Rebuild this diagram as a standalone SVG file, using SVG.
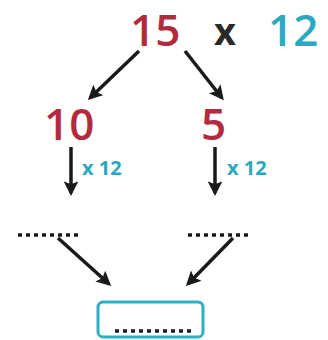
<svg xmlns="http://www.w3.org/2000/svg" width="328" height="340" viewBox="0 0 328 340">
  <style>
    .red { fill: #b22a3e; font-family: "Open Sans", "Liberation Sans", sans-serif; font-size: 44px; font-weight: 600; }
    .teal { fill: #2aa9c1; font-family: "Open Sans", "Liberation Sans", sans-serif; font-size: 44px; font-weight: 600; }
    .op { fill: #2a2a2a; font-family: "Open Sans", "Liberation Sans", sans-serif; font-size: 38px; font-weight: bold; }
    .mul { fill: #2aa9c1; font-family: "Open Sans", "Liberation Sans", sans-serif; font-size: 20px; font-weight: bold; }
    .arrow { stroke: #1a1a1a; stroke-width: 3.5; fill: none; marker-end: url(#head); }
    .dots { stroke: #1a1a1a; stroke-width: 3.5; stroke-dasharray: 4 4; }
  </style>
  <defs>
    <marker id="head" viewBox="0 0 10 10" refX="8" refY="5" markerWidth="4.2" markerHeight="4.2" orient="auto" markerUnits="strokeWidth">
      <path d="M0,0 L10,5 L0,10 L2,5 Z" fill="#1a1a1a"/>
    </marker>
  </defs>

  <!-- top expression -->
  <g id="expr">
    <text class="red" x="130" y="46">15</text>
    <text class="op" x="214" y="45">x</text>
    <text class="teal" x="268" y="46">12</text>
  </g>

  <!-- split parts -->
  <g id="part-10">
    <text class="red" x="44" y="140">10</text>
    <text class="mul" x="82" y="175">x 12</text>
  </g>
  <g id="part-5">
    <text class="red" x="201" y="140">5</text>
    <text class="mul" x="227" y="175">x 12</text>
  </g>

  <!-- blanks for partial products -->
  <g id="blank-left">
    <line class="dots" x1="18" y1="235" x2="82" y2="235"/>
  </g>
  <g id="blank-right">
    <line class="dots" x1="188" y1="235" x2="252" y2="235"/>
  </g>

  <!-- answer box -->
  <g id="answer">
    <rect x="98" y="302" width="105" height="35" rx="5" fill="#fff" stroke="#2ab0c2" stroke-width="3"/>
    <line class="dots" x1="115" y1="331" x2="194" y2="331" stroke-width="3" stroke-dasharray="4 3"/>
  </g>

  <!-- connectors -->
  <g id="connectors">
    <line class="arrow" x1="139" y1="51" x2="90" y2="98"/>
    <line class="arrow" x1="185" y1="51" x2="222" y2="98"/>
    <line class="arrow" x1="71" y1="147" x2="71" y2="193"/>
    <line class="arrow" x1="215" y1="147" x2="215" y2="193"/>
    <line class="arrow" x1="58" y1="238" x2="109" y2="284"/>
    <line class="arrow" x1="233" y1="238" x2="188" y2="284"/>
  </g>
</svg>
